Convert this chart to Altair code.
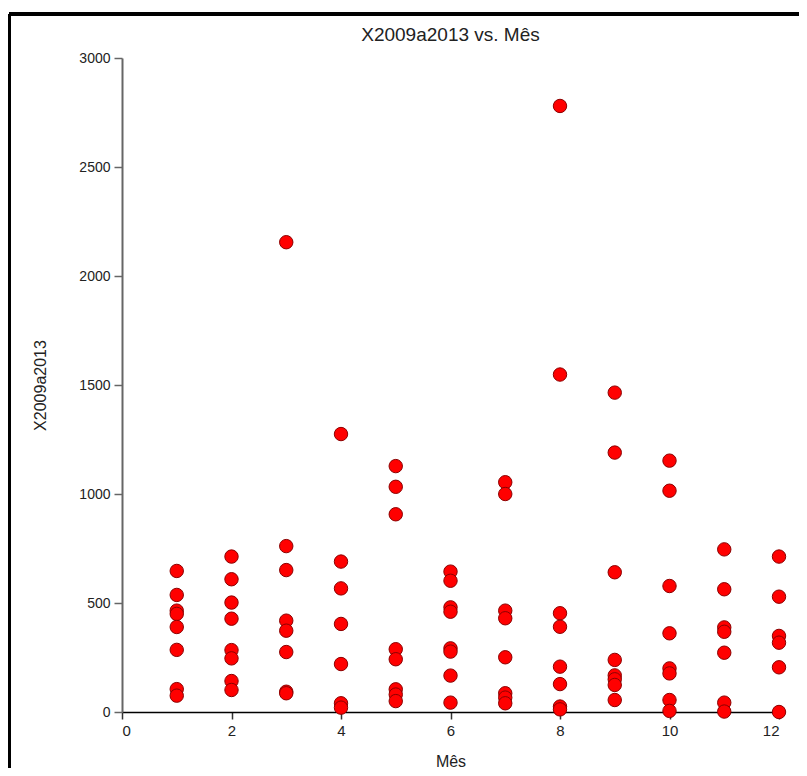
import altair as alt
import pandas as pd

# Values of X2009a2013 for each month (Mês)
mes_1 = [647, 537, 465, 450, 390, 285, 105, 75]
mes_2 = [713, 609, 502, 428, 284, 246, 142, 101]
mes_3 = [2155, 761, 651, 419, 373, 275, 93, 86]
mes_4 = [1275, 690, 567, 404, 220, 40, 20]
mes_5 = [1128, 1033, 907, 288, 242, 104, 80, 50]
mes_6 = [644, 602, 480, 460, 292, 277, 167, 43]
mes_7 = [1054, 1000, 465, 430, 251, 86, 66, 40]
mes_8 = [2780, 1548, 453, 391, 208, 128, 25, 12]
mes_9 = [1465, 1190, 641, 239, 168, 150, 124, 55]
mes_10 = [1153, 1015, 578, 361, 200, 177, 55, 5]
mes_11 = [746, 563, 388, 368, 272, 43, 2]
mes_12 = [713, 529, 349, 318, 205, 0]

x_ticks = [0, 2, 4, 6, 8, 10, 12]
y_ticks = [0, 500, 1000, 1500, 2000, 2500, 3000]

all_months = [mes_1, mes_2, mes_3, mes_4, mes_5, mes_6,
              mes_7, mes_8, mes_9, mes_10, mes_11, mes_12]
rows = []
for i, vals in enumerate(all_months, start=1):
    for v in vals:
        rows.append({"Mês": i, "X2009a2013": v})
df = pd.DataFrame(rows)

FONT = "Liberation Sans"

points = alt.Chart(df).mark_point(
    shape="circle", filled=True, size=180, fill="#ff0000",
    stroke="#8b0000", strokeWidth=1, opacity=1
).encode(
    x=alt.X("Mês:Q", scale=alt.Scale(domain=[0, 12], nice=False, zero=False),
            axis=alt.Axis(values=x_ticks, title="Mês", grid=False, format="d",
                          domainColor="#000000", domainWidth=1.5,
                          tickColor="#333333", tickSize=7, tickWidth=1.5,
                          labelFontSize=15, labelColor="#222222", labelFont=FONT,
                          labelPadding=4, titleFontSize=16, titleFont=FONT,
                          titleFontWeight="normal", titleColor="#222222",
                          titlePadding=15)),
    y=alt.Y("X2009a2013:Q", scale=alt.Scale(domain=[0, 3000], nice=False),
            axis=alt.Axis(values=y_ticks, title="X2009a2013", grid=False, format="d",
                          domainColor="#666666", domainWidth=2,
                          tickColor="#666666", tickSize=8, tickWidth=1.5,
                          labelFontSize=14, labelColor="#222222", labelFont=FONT,
                          labelPadding=4, titleFontSize=16, titleFont=FONT,
                          titleFontWeight="normal", titleColor="#222222",
                          titlePadding=30)),
)

# decorative frame around the figure (thick black border, top and left)
frame_top = alt.Chart(df).mark_rule(color="#000000", strokeWidth=3.5).encode(
    x=alt.value(-113), x2=alt.value(720), y=alt.value(-44)
)
frame_left = alt.Chart(df).mark_rule(color="#000000", strokeWidth=3.5).encode(
    x=alt.value(-113), y=alt.value(-44), y2=alt.value(720)
)

chart = alt.layer(points, frame_top, frame_left).properties(
    width=657, height=654,
    autosize=alt.AutoSizeParams(type="none"),
    padding={"left": 114, "top": 50, "right": 20, "bottom": 56},
    title=alt.TitleParams("X2009a2013 vs. Mês", fontSize=19, font=FONT,
                          fontWeight="normal", color="#222222", offset=0,
                          dy=52, anchor="middle", frame="group",
                          baseline="bottom"),
).configure_view(stroke=None)

chart.save("out.html", embed_options={"renderer": "svg", "actions": False})
